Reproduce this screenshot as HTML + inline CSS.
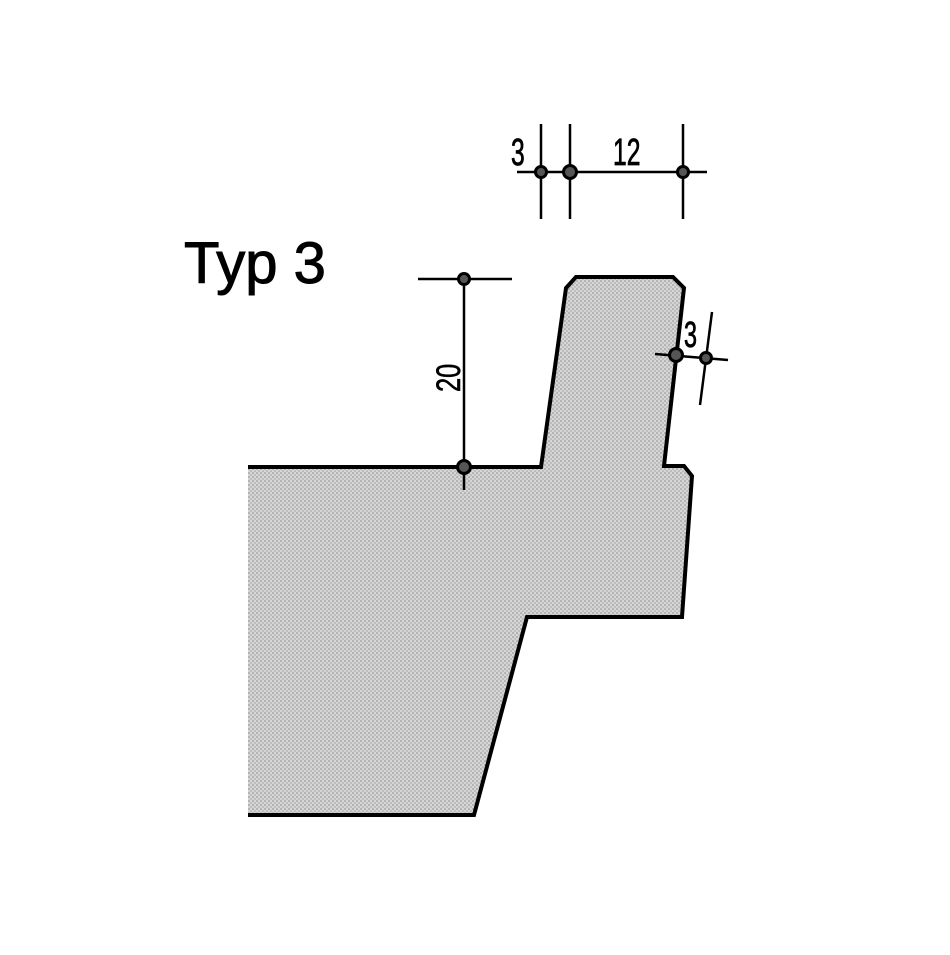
<!DOCTYPE html>
<html><head><style>html,body{margin:0;padding:0;background:#fff;}</style></head>
<body>
<svg width="950" height="950" viewBox="0 0 950 950" xmlns="http://www.w3.org/2000/svg">
<defs>
<pattern id="dots" width="4" height="4" patternUnits="userSpaceOnUse">
<rect width="4" height="4" fill="#d6d6d6"/>
<circle cx="1" cy="1" r="0.8" fill="#8a8a8a"/>
<circle cx="3" cy="3" r="0.8" fill="#a0a0a0"/>
</pattern>
</defs>
<path d="M248,467 L541,467 L566,288 L576,277 L673,277 L684,288 L664,466 L684,466 L692,476 L682,617 L527,617 L474,815 L248,815 Z" fill="url(#dots)"/>
<path d="M248,467 L541,467 L566,288 L576,277 L673,277 L684,288 L664,466 L684,466 L692,476 L682,617 L527,617 L474,815 L248,815" fill="none" stroke="#000" stroke-width="4" stroke-linejoin="miter"/>
<g stroke="#000" stroke-width="2.5" fill="none">
<line x1="517" y1="172" x2="707" y2="172"/>
<line x1="541" y1="124" x2="541" y2="219"/>
<line x1="570" y1="124" x2="570" y2="219"/>
<line x1="683" y1="124" x2="683" y2="219"/>
<line x1="464" y1="279" x2="464" y2="490"/>
<line x1="418" y1="279" x2="512" y2="279"/>
<line x1="655" y1="354" x2="728" y2="360"/>
<line x1="712" y1="312" x2="700" y2="405"/>
</g>
<g stroke="#000" stroke-width="3" fill="#555">
<circle cx="541" cy="172" r="5.5"/><circle cx="570" cy="172" r="6.5"/><circle cx="683" cy="172" r="5.5"/>
<circle cx="464" cy="279" r="5.5"/><circle cx="464" cy="467" r="6.5"/>
<circle cx="676" cy="355" r="6.5"/><circle cx="706" cy="358" r="5.5"/>
</g>
<g font-family="Liberation Sans, sans-serif" fill="#000">
<text x="184" y="283" font-size="58" stroke="#000" stroke-width="1">Typ 3</text>
<text transform="translate(511 165) scale(0.65 1)" font-size="38" stroke="#000" stroke-width="0.8">3</text>
<text transform="translate(613 165) scale(0.65 1)" font-size="38" stroke="#000" stroke-width="0.8">12</text>
<text transform="translate(684 347) scale(0.65 1)" font-size="36" stroke="#000" stroke-width="0.8">3</text>
<text transform="translate(460 392) rotate(-90) scale(0.75 1)" font-size="34" stroke="#000" stroke-width="0.6">20</text>
</g>
</svg>
</body></html>
